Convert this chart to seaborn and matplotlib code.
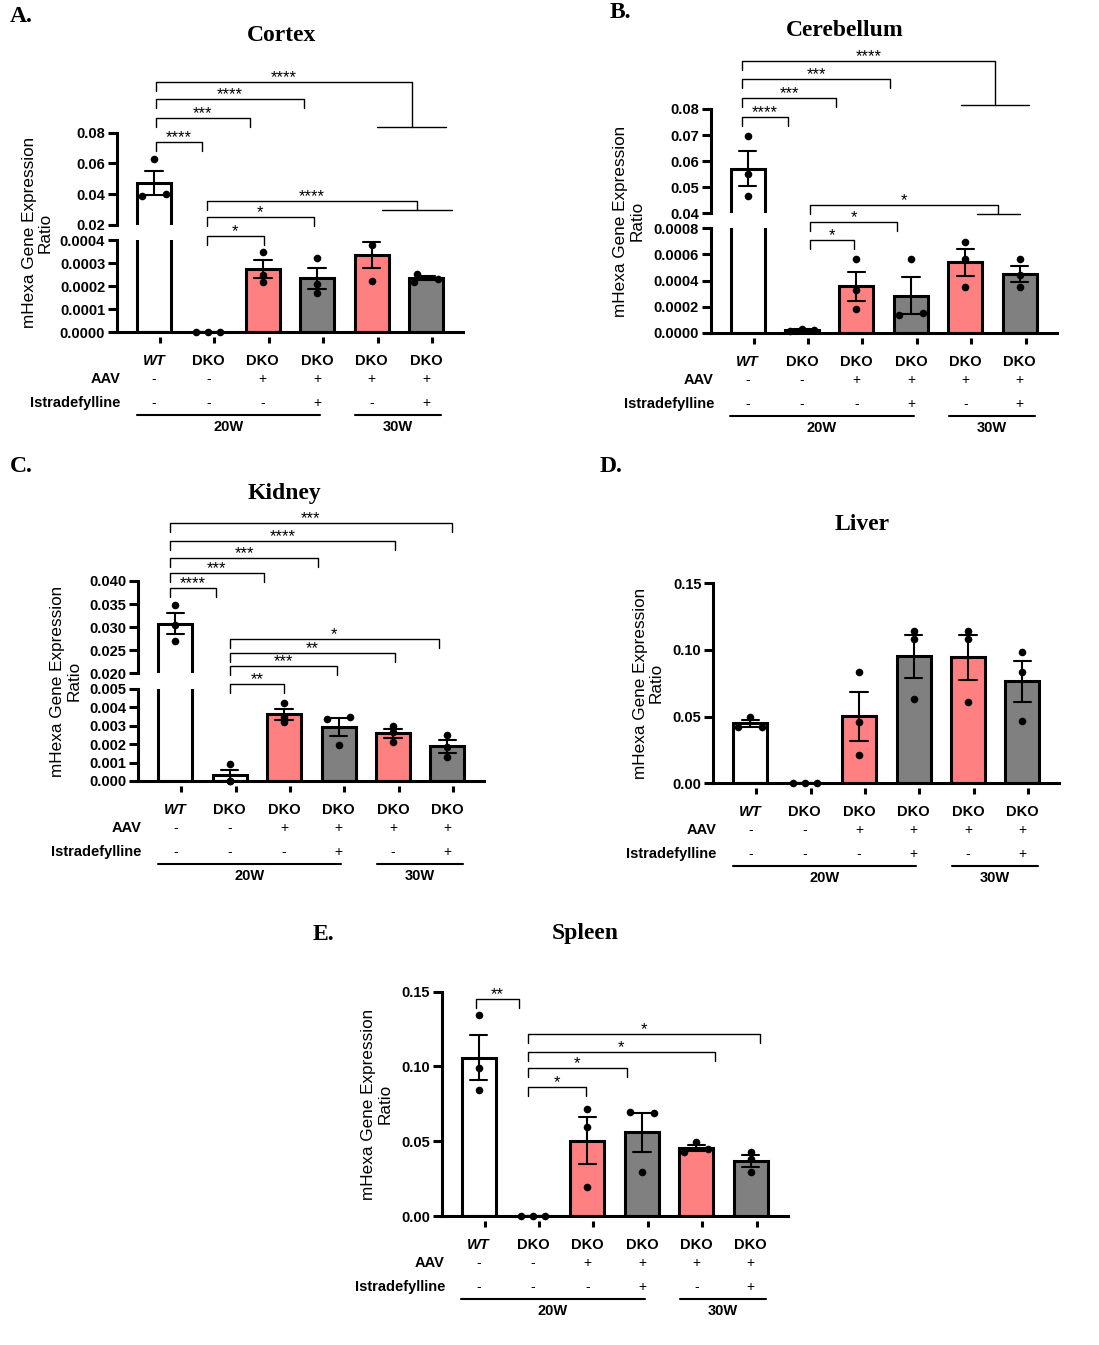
import numpy as np
import pandas as pd
import matplotlib
matplotlib.use("Agg")
from matplotlib import pyplot as plt
from matplotlib import transforms
import seaborn as sns

# groups (x order) and the design rows printed under the axis
GROUPS = ["WT", "DKO", "DKO AAV 20W", "DKO AAV Istra 20W", "DKO AAV 30W", "DKO AAV Istra 30W"]
GENOTYPE = ["WT", "DKO", "DKO", "DKO", "DKO", "DKO"]
AAV = ["-", "-", "+", "+", "+", "+"]
ISTRA = ["-", "-", "-", "+", "-", "+"]
PERIODS = ["20W", "30W"]
BAR_COLORS = ["white", "white", "#FF8080", "#808080", "#FF8080", "#808080"]

# replicate values (3 mice per group)
CORTEX = [[0.0627, 0.0390, 0.0400], [0.000002, 0.000003, 0.000002],
          [0.000350, 0.000249, 0.000220], [0.000321, 0.000210, 0.000169],
          [0.000403, 0.000379, 0.000223], [0.000253, 0.000220, 0.000230]]
CEREBELLUM = [[0.0695, 0.0550, 0.0468], [0.00001, 0.00003, 0.00002],
              [0.000563, 0.000327, 0.000179], [0.000565, 0.000136, 0.000150],
              [0.000698, 0.000565, 0.000353], [0.000565, 0.000440, 0.000348]]
KIDNEY = [[0.0349, 0.0304, 0.0270], [0.00091, 0.0, 0.0],
          [0.00422, 0.00346, 0.00322], [0.00335, 0.00350, 0.00196],
          [0.00299, 0.00265, 0.00214], [0.00248, 0.00186, 0.00129]]
LIVER = [[0.050, 0.0425, 0.0425], [0.0, 0.0, 0.0],
         [0.0837, 0.0462, 0.0210], [0.1145, 0.1080, 0.0632],
         [0.1145, 0.1080, 0.0612], [0.0987, 0.0837, 0.0470]]
SPLEEN = [[0.1345, 0.0988, 0.0843], [0.0, 0.0, 0.0],
          [0.0716, 0.0598, 0.0196], [0.0694, 0.0687, 0.0297],
          [0.0497, 0.0426, 0.0446], [0.0426, 0.0381, 0.0297]]

# horizontal spread of the dots inside each bar (layout only)
CORTEX_SPREAD = [(0, -1, 1), (-1, 0, 1), (0, 0, 0), (0, 0, 0), (1, 0, 0), (-0.75, -1, 1)]
CEREBELLUM_SPREAD = [(0, 0, 0), (-1, 0, 1), (0, 0, 0), (0, -1, 1), (0, 0, 0), (0, 0, 0)]
KIDNEY_SPREAD = [(0, 0, 0), (0, 0, 0), (0, 0, 0), (-1, 1, 0), (0, 0, 0), (0, 0, 0)]
LIVER_SPREAD = [(0, -1, 1), (-1, 0, 1), (0, 0, 0), (0, 0, 0), (0, 0, 0), (0, 0, 0)]
SPLEEN_SPREAD = [(0, 0, 0), (-1, 0, 1), (0, 0, 0), (-1, 1, 0), (0, -1, 1), (0, 0, 0)]

# significance brackets: (left x, right x or (lo, hi) group, line y px, label, group line y px)
CORTEX_SIG = [(0.04, 0.88, 141.7, "****", None), (0.04, 1.76, 118.3, "***", None),
              (0.04, 2.76, 99.0, "****", None), (0.04, (4.1, 5.37), 82.3, "****", 127.3),
              (0.97, 2.02, 235.7, "*", None), (0.97, 2.94, 217.3, "*", None),
              (0.97, (4.19, 5.48), 200.7, "****", 210.0)]
CEREBELLUM_SIG = [(-0.1, 0.74, 117.3, "****", None), (-0.1, 1.63, 98.3, "***", None),
                  (-0.1, 2.62, 79.3, "***", None), (-0.1, (3.93, 5.18), 60.7, "****", 105.3),
                  (1.15, 1.95, 240.0, "*", None), (1.15, 2.74, 222.3, "*", None),
                  (1.15, (4.21, 5.0), 205.0, "*", 214.3)]
KIDNEY_SIG = [(-0.1, 0.74, 587.7, "****", None), (-0.1, 1.63, 572.7, "***", None),
              (-0.1, 2.63, 557.7, "***", None), (-0.1, 4.04, 541.3, "****", None),
              (-0.1, 5.08, 522.7, "***", None),
              (1.0, 2.0, 684.0, "**", None), (1.0, 2.97, 666.0, "***", None),
              (1.0, 4.04, 652.7, "**", None), (1.0, 4.85, 639.3, "*", None)]
LIVER_SIG = []
SPLEEN_SIG = [(-0.05, 0.74, 999.3, "**", None), (0.9, 1.98, 1086.7, "*", None),
              (0.9, 2.73, 1068.3, "*", None), (0.9, 4.34, 1051.7, "*", None),
              (0.9, 5.18, 1034.0, "*", None)]

W, H = 1099, 1345
AX_W = 346
XLIM = (-0.68, 5.68)
PALETTE = dict(zip(GROUPS, BAR_COLORS))

sns.set_style("ticks", {"axes.edgecolor": "black", "xtick.color": "black",
                        "ytick.color": "black", "text.color": "black"})
plt.rcParams["font.family"] = ["Liberation Sans", "DejaVu Sans"]

fig = plt.figure(figsize=(W / 100, H / 100), dpi=100)


def below(ax, px):
    # x in data units, y = px pixels under the bottom spine
    return ax.get_xaxis_transform() + transforms.ScaledTranslation(0, -px / 100, fig.dpi_scale_trans)


def draw_bars(ax, values, spread, lo, hi):
    df = pd.DataFrame({"group": np.repeat(GROUPS, 3), "value": np.concatenate(values)})
    sns.barplot(data=df, x="group", y="value", hue="group", order=GROUPS, hue_order=GROUPS,
                palette=PALETTE, saturation=1, width=0.625, errorbar="se", capsize=0.32,
                err_kws={"color": "black", "linewidth": 1.5}, edgecolor="black",
                linewidth=2.2, legend=False, ax=ax)
    for i, (vals, offs) in enumerate(zip(values, spread)):
        for v, o in zip(vals, offs):
            if lo <= v <= hi:
                ax.scatter(i + o * 0.22, v, s=30, color="black", linewidths=0,
                           zorder=5, clip_on=False)


def draw_design(ax):
    pos = np.arange(len(GROUPS))
    ax.plot(pos + 0.11, np.zeros(len(pos)), ls="none", marker="|", ms=4.5, mew=2.2,
            color="black", transform=below(ax, 8), clip_on=False)
    for i in pos:
        ax.text(i, 0, GENOTYPE[i], transform=below(ax, 29), ha="center", va="center",
                fontsize=10.5, fontweight="bold",
                fontstyle="italic" if GENOTYPE[i] == "WT" else "normal")
        ax.text(i, 0, AAV[i], transform=below(ax, 47), ha="center", va="center", fontsize=10)
        ax.text(i, 0, ISTRA[i], transform=below(ax, 71), ha="center", va="center", fontsize=10)
    ax.text(-0.62, 0, "AAV", transform=below(ax, 47), ha="right", va="center",
            fontsize=10.5, fontweight="bold")
    ax.text(-0.62, 0, "Istradefylline", transform=below(ax, 71), ha="right", va="center",
            fontsize=10.5, fontweight="bold")
    for (a, b), lab in zip([(-0.32, 3.05), (3.7, 5.28)], PERIODS):
        ax.plot([a, b], [0, 0], color="black", lw=1.5, transform=below(ax, 83), clip_on=False)
        ax.text((a + b) / 2, 0, lab, transform=below(ax, 95), ha="center", va="center",
                fontsize=10.5, fontweight="bold")


def draw_bracket(ax, x0, x1, ypx, label, group_px):
    tr = transforms.blended_transform_factory(ax.transData, fig.transFigure)
    y = 1 - ypx / H
    drop = 9 / H
    if group_px is None:
        xs, ys = [x0, x0, x1, x1], [y - drop, y, y, y - drop]
        xm = (x0 + x1) / 2
    else:
        lo, hi = x1
        xe = (lo + hi) / 2
        gy = 1 - group_px / H
        xs, ys = [x0, x0, xe, xe], [y - drop, y, y, gy]
        ax.plot([lo, hi], [gy, gy], color="black", lw=1, transform=tr, clip_on=False)
        xm = (x0 + xe) / 2
    ax.plot(xs, ys, color="black", lw=1, transform=tr, clip_on=False)
    ax.text(xm, y - 3 / H, label, transform=tr, ha="center", va="bottom", fontsize=12)


def draw_panel(letter, letter_xy, title, title_xy, values, spread, sig, left, segments, ylabel_xy):
    axes = []
    for k, (top, bottom, ylim, ticks, fmt) in enumerate(segments):
        ax = fig.add_axes([left / W, 1 - bottom / H, AX_W / W, (bottom - top) / H])
        ax.patch.set_visible(False)
        draw_bars(ax, values, spread, ylim[0], ylim[1])
        ax.set_xlim(*XLIM)
        ax.set_ylim(*ylim)
        ax.set_xlabel("")
        ax.set_ylabel("")
        ax.set_xticks([])
        ax.set_yticks(ticks, labels=[fmt % t for t in ticks], fontsize=10.5, fontweight="bold")
        ax.tick_params(axis="y", length=6.5, width=2.2, pad=2)
        for side in ["top", "right"]:
            ax.spines[side].set_visible(False)
        ax.spines["left"].set_linewidth(2.2)
        ax.spines["bottom"].set_linewidth(2.2)
        if k < len(segments) - 1:
            ax.spines["bottom"].set_visible(False)
        axes.append(ax)
    draw_design(axes[-1])
    for x0, x1, ypx, label, gpx in sig:
        draw_bracket(axes[0], x0, x1, ypx, label, gpx)
    fig.text(ylabel_xy[0] / W, 1 - ylabel_xy[1] / H, "mHexa Gene Expression\nRatio",
             rotation=90, ha="center", va="center", fontsize=12.3, linespacing=1.1,
             multialignment="center")
    fig.text(title_xy[0] / W, 1 - title_xy[1] / H, title, ha="center", va="center",
             family="Liberation Serif", fontsize=17, fontweight="bold")
    fig.text(letter_xy[0] / W, 1 - letter_xy[1] / H, letter, ha="left", va="center",
             family="Liberation Serif", fontsize=17, fontweight="bold")


draw_panel("A.", (10, 16), "Cortex", (281.5, 35.5), CORTEX, CORTEX_SPREAD, CORTEX_SIG, 117,
           [(132.7, 225.0, (0.02, 0.08), [0.02, 0.04, 0.06, 0.08], "%.2f"),
            (240.0, 332.3, (0.0, 0.0004), [0.0, 0.0001, 0.0002, 0.0003, 0.0004], "%.4f")],
           (37.5, 232.5))
draw_panel("B.", (610, 13), "Cerebellum", (844.5, 30.5), CEREBELLUM, CEREBELLUM_SPREAD,
           CEREBELLUM_SIG, 710.7,
           [(109.0, 213.3, (0.04, 0.08), [0.04, 0.05, 0.06, 0.07, 0.08], "%.2f"),
            (228.3, 332.7, (0.0, 0.0008), [0.0, 0.0002, 0.0004, 0.0006, 0.0008], "%.4f")],
           (629, 221))
draw_panel("C.", (10, 466), "Kidney", (284.7, 493), KIDNEY, KIDNEY_SPREAD, KIDNEY_SIG, 138.3,
           [(581.0, 673.3, (0.02, 0.04), [0.020, 0.025, 0.030, 0.035, 0.040], "%.3f"),
            (689.0, 781.0, (0.0, 0.005), [0.0, 0.001, 0.002, 0.003, 0.004, 0.005], "%.3f")],
           (66, 681))
draw_panel("D.", (600, 466), "Liver", (862, 525), LIVER, LIVER_SPREAD, LIVER_SIG, 713.3,
           [(583.3, 783.3, (0.0, 0.15), [0.0, 0.05, 0.10, 0.15], "%.2f")],
           (648.5, 683))
draw_panel("E.", (313, 935), "Spleen", (585, 933), SPLEEN, SPLEEN_SPREAD, SPLEEN_SIG, 441.7,
           [(991.7, 1216.0, (0.0, 0.15), [0.0, 0.05, 0.10, 0.15], "%.2f")],
           (377, 1104))

fig.savefig("out.png", dpi=100, facecolor="white")
